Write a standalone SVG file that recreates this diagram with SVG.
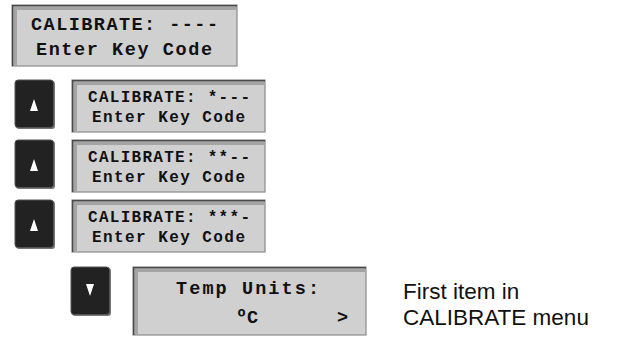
<svg xmlns="http://www.w3.org/2000/svg" width="617" height="337" viewBox="0 0 617 337">
<style>
.lcd{fill:#d0d0d0;stroke:#8a8a8a;stroke-width:1.2}
.bev{fill:none;stroke:#a4a4a4;stroke-width:3}
.edge{fill:none;stroke:#4a4a4a;stroke-width:1.5}
.t1{font-family:"Liberation Mono","DejaVu Sans Mono",monospace;font-weight:bold;font-size:18.5px;fill:#111}
.t2{font-family:"Liberation Mono","DejaVu Sans Mono",monospace;font-weight:bold;font-size:16px;fill:#111}
.btn{fill:#222;stroke:#555;stroke-width:1}
.tri{fill:#fff}
.note{font-family:"Liberation Sans",Arial,sans-serif;font-size:22.5px;fill:#111}
</style>
<g id="lcd1">
<rect class="lcd" x="12" y="5" width="225" height="61"/>
<path class="bev" d="M15.5,66 V8.5 H237"/>
<path class="edge" d="M12.75,66 V5.75 H237"/>
<text class="t1" x="31" y="29.5" textLength="187" lengthAdjust="spacing">CALIBRATE: ----</text>
<text class="t1" x="36" y="55" textLength="176" lengthAdjust="spacing">Enter Key Code</text>
</g>
<g id="btn1">
<rect x="16" y="81" width="39" height="48" rx="3" fill="#777"/>
<rect class="btn" x="15" y="80" width="38.5" height="47.5" rx="3"/>
<polygon class="tri" points="30,111 38,111 34,99"/>
</g>
<g id="lcd2">
<rect class="lcd" x="72" y="80" width="193" height="52"/>
<path class="bev" d="M75.5,132 V83.5 H265"/>
<path class="edge" d="M72.75,132 V80.75 H265"/>
<text class="t2" x="88" y="102" textLength="162" lengthAdjust="spacing">CALIBRATE: *---</text>
<text class="t2" x="92" y="122" textLength="153" lengthAdjust="spacing">Enter Key Code</text>
</g>
<g id="btn2">
<rect x="16" y="141" width="39" height="48" rx="3" fill="#777"/>
<rect class="btn" x="15" y="140" width="38.5" height="47.5" rx="3"/>
<polygon class="tri" points="30,171 38,171 34,159"/>
</g>
<g id="lcd3">
<rect class="lcd" x="72" y="140" width="193" height="52"/>
<path class="bev" d="M75.5,192 V143.5 H265"/>
<path class="edge" d="M72.75,192 V140.75 H265"/>
<text class="t2" x="88" y="162" textLength="162" lengthAdjust="spacing">CALIBRATE: **--</text>
<text class="t2" x="92" y="182" textLength="153" lengthAdjust="spacing">Enter Key Code</text>
</g>
<g id="btn3">
<rect x="16" y="201" width="39" height="48" rx="3" fill="#777"/>
<rect class="btn" x="15" y="200" width="38.5" height="47.5" rx="3"/>
<polygon class="tri" points="30,231 38,231 34,219"/>
</g>
<g id="lcd4">
<rect class="lcd" x="72" y="200" width="193" height="52"/>
<path class="bev" d="M75.5,252 V203.5 H265"/>
<path class="edge" d="M72.75,252 V200.75 H265"/>
<text class="t2" x="88" y="222" textLength="162" lengthAdjust="spacing">CALIBRATE: ***-</text>
<text class="t2" x="92" y="242" textLength="153" lengthAdjust="spacing">Enter Key Code</text>
</g>
<g id="btn4">
<rect x="72" y="268" width="39" height="48" rx="3" fill="#777"/>
<rect class="btn" x="71" y="267" width="38.5" height="47.5" rx="3"/>
<polygon class="tri" points="86,284 94,284 90,296"/>
</g>
<g id="lcd5">
<rect class="lcd" x="133" y="267" width="233" height="68"/>
<path class="bev" d="M136.5,335 V270.5 H366"/>
<path class="edge" d="M133.75,335 V267.75 H366"/>
<text class="t1" x="176" y="294" textLength="143" lengthAdjust="spacing">Temp Units:</text>
<text class="t1" x="236" y="323">ºC</text>
<text class="t1" x="337" y="323">&gt;</text>
</g>
<g id="note">
<text class="note" x="403" y="299">First item in</text>
<text class="note" x="403" y="325">CALIBRATE menu</text>
</g>
<g id="connectors"/>
</svg>
